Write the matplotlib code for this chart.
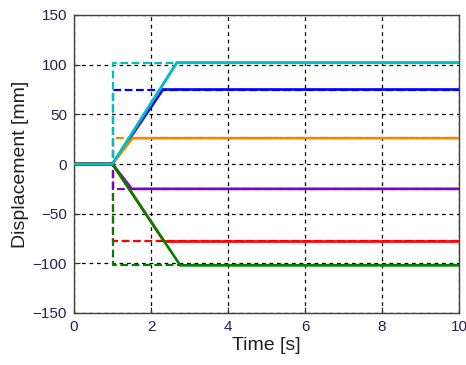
import matplotlib
matplotlib.use("Agg")
import matplotlib.pyplot as plt

plt.rcParams['font.family'] = ['Liberation Sans', 'DejaVu Sans']

# Final displacement targets per channel [mm]
colors = ["#00bfbf", "#0000ff", "#ee8a00", "#8000c4", "#ff0000", "#008000"]
targets = [102, 75, 26, -25, -78, -102]
# Time at which each measured response reaches its target [s]
reach_times = [2.67, 2.31, 1.52, 1.50, 2.34, 2.76]
# Stacking order of the dashed reference steps (last drawn ends up on top)
dash_order = [1, 2, 4, 5, 3, 0]

step_time = 1.0
t_end = 10.0

fig = plt.figure(figsize=(4.66, 3.65), dpi=100)
ax = fig.add_axes([74/466, 1 - 313/365, (459-74)/466, (313-15)/365])

# Commanded (step) references, dashed
for i in dash_order:
    ax.plot([0, step_time, step_time, t_end], [0, 0, targets[i], targets[i]],
            color=colors[i], lw=1.6, ls=(0, (3.5, 1.6)), zorder=2)

# Measured responses, solid ramps
for c, tgt, tr in zip(colors, targets, reach_times):
    ax.plot([0, step_time, tr, t_end], [0, 0, tgt, tgt],
            color=c, lw=1.9, zorder=3)
# cyan response drawn on top of the shared zero segment
ax.plot([0, step_time, reach_times[0], t_end], [0, 0, targets[0], targets[0]],
        color=colors[0], lw=1.9, zorder=4)

ax.set_xlim(0, 10)
ax.set_ylim(-150, 150)
ax.set_xticks([0, 2, 4, 6, 8, 10])
ax.set_yticks([-150, -100, -50, 0, 50, 100, 150])
ax.grid(True, color='black', ls=(0, (3, 3)), lw=0.9)
ax.tick_params(direction='in', length=4, labelsize=11, colors='#303030',
               labelcolor='#2a2050', pad=5, top=False, right=False)
for s in ax.spines.values():
    s.set_color('#404040')
    s.set_linewidth(1.0)

ax.set_xlabel("Time [s]", fontsize=14, color='#202020', labelpad=2)
ax.set_ylabel("Displacement [mm]", fontsize=14, color='#202020', labelpad=3)

fig.savefig("out.png", dpi=100)
